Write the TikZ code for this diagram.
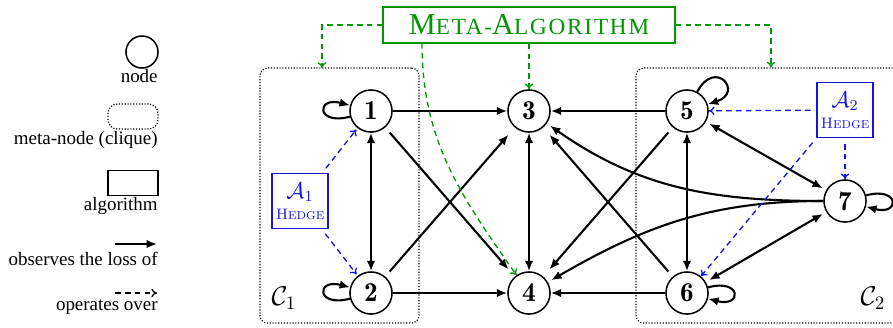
\documentclass[tikz,border=0pt]{standalone}
\usepackage{fontspec}
\newfontfamily\tms{Liberation Serif}
\newfontfamily\metafont[LetterSpace=8]{Liberation Serif}
\usetikzlibrary{arrows.meta,calc}
\definecolor{mgreen}{RGB}{0,150,0}
\definecolor{mblue}{RGB}{20,20,220}
\newcommand\bigsc[1]{{\fontsize{16}{18}\selectfont #1}}
\newcommand\smsc[1]{{\fontsize{12.2}{14}\selectfont #1}}
\begin{document}
\begin{tikzpicture}[x=0.5275pt,y=-0.5275pt,
  vtx/.style={circle,draw,line width=0.8pt,minimum size=22.2pt,inner sep=0pt,font=\Large},
  obs/.style={line width=1.1pt,-{Latex[length=5.5pt,width=4.5pt]}},
  obsb/.style={line width=1.1pt,{Latex[length=5.5pt,width=4.5pt]}-{Latex[length=5.5pt,width=4.5pt]}},
  diag/.style={shorten <=3.5pt,shorten >=5pt},
  selfloop/.style={obs,looseness=8,min distance=16pt},
  cluster/.style={draw,line width=0.6pt,dash pattern=on 0.6pt off 0.9pt,rounded corners=4pt,inner sep=0pt},
  algbox/.style={draw=mblue,line width=0.8pt,text=mblue,minimum width=29.5pt,minimum height=29pt,inner sep=0pt,align=center},
  bluearr/.style={draw=mblue,line width=0.7pt,dash pattern=on 3pt off 2.2pt,-{To[length=3pt,width=4.5pt]}},
  greenarr/.style={draw=mgreen,line width=0.7pt,dash pattern=on 3pt off 2.2pt,-{To[length=3pt,width=4.5pt]}},
  legtext/.style={anchor=base east,inner sep=0pt,font=\tms},
]
\useasboundingbox (0,0) rectangle (893,327);

% legend
\node[circle,draw,line width=0.8pt,minimum size=16.9pt,inner sep=0pt] (lnode) at (142,52) {};
\node[legtext] (lnodet) at (158,82) {node};
\node[draw,line width=0.6pt,dash pattern=on 0.6pt off 0.9pt,rounded corners=5pt,minimum width=26.4pt,minimum height=13.2pt,inner sep=0pt] (lmeta) at (133,116.5) {};
\node[legtext] (lmetat) at (158,144) {meta-node (clique)};
\node[draw,line width=0.8pt,minimum width=26.4pt,minimum height=13.2pt,inner sep=0pt] (lalg) at (133,183) {};
\node[legtext] (lalgt) at (158,210) {algorithm};
\coordinate (lo1) at (115,244);
\coordinate (lo2) at (157,244);
\draw[obs] (lo1) -- (lo2);
\node[legtext] (lobst) at (158,265) {observes the loss of};
\coordinate (lp1) at (115,293);
\coordinate (lp2) at (157,293);
\draw[line width=0.7pt,dash pattern=on 3pt off 2.2pt,-{To[length=3pt,width=4.5pt]}] (lp1) -- (lp2);
\node[legtext] (lopt) at (158,310) {operates over};

% clusters
\node[cluster,minimum width=83.9pt,minimum height=134.5pt] (C1) at (339.5,195.5) {};
\node[cluster,minimum width=142.4pt,minimum height=134.5pt] (C2) at (771,195.5) {};
\node[font=\Large,inner sep=0pt] (C1l) at (284,298) {$\mathcal{C}_1$};
\node[font=\Large,inner sep=0pt] (C2l) at (873,298) {$\mathcal{C}_2$};

% vertices
\node[vtx] (n1) at (371,111) {$\mathbf{1}$};
\node[vtx] (n2) at (371,293) {$\mathbf{2}$};
\node[vtx] (n3) at (529,111) {$\mathbf{3}$};
\node[vtx] (n4) at (529,293) {$\mathbf{4}$};
\node[vtx] (n5) at (687,111) {$\mathbf{5}$};
\node[vtx] (n6) at (687,293) {$\mathbf{6}$};
\node[vtx] (n7) at (845,201) {$\mathbf{7}$};

% algorithms
\node[algbox] (A1) at (300,201) {{\large$\mathcal{A}_1$}\\[-1pt]{\footnotesize\textsc{Hedge}}};
\node[algbox] (A2) at (845,110) {{\large$\mathcal{A}_2$}\\[-1pt]{\footnotesize\textsc{Hedge}}};
\node[draw=mgreen,line width=0.8pt,text=mgreen,minimum width=154pt,minimum height=19pt,inner sep=0pt,font=\metafont] (meta) at (529,25)
  {\bigsc{M}\smsc{ETA-}\bigsc{A}\smsc{LGORITHM}};

% edges
\draw[obs] (n1) -- (n3);
\draw[obs,diag] (n1) -- (n4);
\draw[obsb] (n1) -- (n2);
\draw[obs,diag] (n2) -- (n3);
\draw[obs] (n2) -- (n4);
\draw[obsb] (n3) -- (n4);
\draw[obs] (n5) -- (n3);
\draw[obs,diag] (n5) -- (n4);
\draw[obs,diag] (n6) -- (n3);
\draw[obs] (n6) -- (n4);
\draw[obsb] (n5) -- (n6);
\draw[obsb,shorten <=2pt,shorten >=2pt] (n5) -- (n7);
\draw[obsb,shorten <=2pt,shorten >=2pt] (n6) -- (n7);
\draw[obs,shorten >=2pt] (n7.180) to[out=180,in=-35] (n3);
\draw[obs,shorten >=2pt] (n7.180) to[out=180,in=30] (n4);

% self loops
\draw[selfloop] (n1) to[out=195,in=165,loop] (n1);
\draw[selfloop] (n2) to[out=195,in=165,loop] (n2);
\draw[obs] (n5) to[out=62,in=18,loop,looseness=6,min distance=12pt] (n5);
\draw[selfloop] (n6) to[out=15,in=-15,loop] (n6);
\draw[selfloop] (n7) to[out=15,in=-15,loop] (n7);

% operates over (blue)
\draw[bluearr,shorten <=3pt,shorten >=1pt] (A1) -- (n1);
\draw[bluearr,shorten <=3pt,shorten >=1pt] (A1) -- (n2);
\draw[bluearr,shorten <=3pt] (A2) -- (n5);
\draw[bluearr,shorten <=3pt] (A2) -- (n7);
\draw[bluearr,shorten <=3pt] (A2.south west) -- (n6);

% operates over (green)
\coordinate (c1t) at (322,68);
\coordinate (mg) at (422,43);
\draw[greenarr] (meta.west) -| (c1t);
\draw[greenarr] (meta.east) -| (C2.north);
\draw[greenarr] (meta) -- (n3);
\draw[greenarr] (mg) to[out=-90,in=125] (n4);
\end{tikzpicture}
\end{document}
